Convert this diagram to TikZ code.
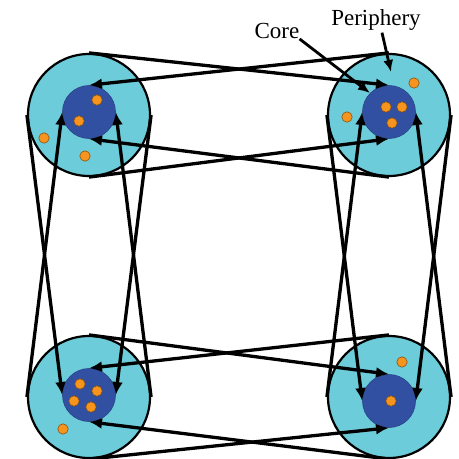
\documentclass[tikz,border=0pt]{standalone}
\usepackage{fontspec}
\setmainfont{Liberation Serif}
\usetikzlibrary{arrows.meta}
\definecolor{periphcol}{RGB}{108,204,218}
\definecolor{corecol}{RGB}{50,80,162}
\definecolor{dotcol}{RGB}{247,148,30}
\begin{document}
\begin{tikzpicture}[x=1pt,y=-1pt,
        periph/.style={draw, circle, fill=periphcol, line width=2.2pt, minimum size=122pt, inner sep=0pt},
        core/.style={circle, fill=corecol, draw=corecol!85!black, line width=0.6pt, minimum size=53pt, inner sep=0pt},
        dot/.style={fill=dotcol, draw=dotcol!55!black, line width=0.6pt},
        link/.style={-{Latex[length=13pt,width=11pt]}, line width=3.3pt},
        pointer/.style={-{Latex[length=12pt,width=10pt]}, line width=2.8pt},
        lbl/.style={font=\fontsize{23}{26}\selectfont, inner sep=0pt},
    ]
    \useasboundingbox (0,0) rectangle (459,459);
    % clusters
    \node[periph](tl) at (89,115){};
    \node[periph](tr) at (389,115){};
    \node[periph](bl) at (89,397){};
    \node[periph](br) at (389,397){};
    \node[core](tlc) at (89,112){};
    \node[core](trc) at (389,112){};
    \node[core](blc) at (89,395){};
    \node[core](brc) at (389,401){};
    % nodes of each cluster
    \foreach \x/\y in {97/100, 79/121, 44/138, 85/156,
                       386/107, 402/107, 392/123, 414/83, 347/117,
                       80/384, 97/391, 74/401, 91/407, 63/429,
                       391/401, 402/362}
        \draw[dot] (\x,\y) circle (5.2);
    % links between clusters
    \draw[link] (tl.north) -- (trc.north);
    \draw[link] (tr.north) -- (tlc.north);
    \draw[link] (tl.south) -- (trc.south);
    \draw[link] (tr.south) -- (tlc.south);
    \draw[link] (bl.north) -- (brc.north);
    \draw[link] (br.north) -- (blc.north);
    \draw[link] (bl.south) -- (brc.south);
    \draw[link] (br.south) -- (blc.south);
    \draw[link] (tl.west) -- (blc.west);
    \draw[link] (bl.west) -- (tlc.west);
    \draw[link] (tl.east) -- (blc.east);
    \draw[link] (bl.east) -- (tlc.east);
    \draw[link] (tr.west) -- (brc.west);
    \draw[link] (br.west) -- (trc.west);
    \draw[link] (tr.east) -- (brc.east);
    \draw[link] (br.east) -- (trc.east);
    % labels
    \node[lbl](corelbl) at (277,31){Core};
    \node[lbl](periphlbl) at (376,20){Periphery};
    \coordinate (ptip) at (391,72);
    \draw[pointer] (corelbl.south east) -- (trc.135);
    \draw[pointer] (periphlbl.south) ++(6,2) coordinate(pstart) -- (ptip);
\end{tikzpicture}
\end{document}
